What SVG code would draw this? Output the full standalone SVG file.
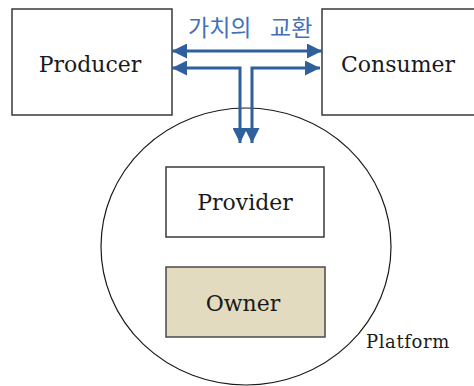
<svg xmlns="http://www.w3.org/2000/svg" width="474" height="386" viewBox="0 0 474 386">
  <style>
    .box { fill: #ffffff; stroke: #3a3a3a; stroke-width: 1.5; }
    .owner { fill: #e2dbc0; stroke: #4a4a4a; stroke-width: 1.5; }
    .label { font-family: "DejaVu Serif", "Liberation Serif", serif; font-size: 22px; fill: #1a1a1a; text-anchor: middle; }
    .small { font-family: "DejaVu Serif", "Liberation Serif", serif; font-size: 18px; fill: #1a1a1a; letter-spacing: 0.6px; }
    .flow { fill: none; stroke: #2f5f9c; stroke-width: 3; }
    .ko { font-family: "Noto Sans CJK KR", sans-serif; font-size: 23px; fill: #4470b8; }
  </style>
  <defs>
    <marker id="head" viewBox="0 0 10 10" refX="10" refY="5" markerWidth="5.5" markerHeight="5" markerUnits="strokeWidth" orient="auto-start-reverse">
      <path d="M0,0 L10,5 L0,10 Z" fill="#2f5f9c"/>
    </marker>
  </defs>

  <rect width="474" height="386" fill="#ffffff"/>

  <g id="platform">
    <ellipse cx="246" cy="246.5" rx="145" ry="138.5" fill="none" stroke="#1a1a1a" stroke-width="1.2"/>
    <text class="small" x="366" y="348">Platform</text>
  </g>

  <g id="producer">
    <rect class="box" x="12" y="9" width="160" height="106" stroke="#555555"/>
    <text class="label" x="90" y="72">Producer</text>
  </g>

  <g id="consumer">
    <rect class="box" x="322" y="9" width="170" height="106" stroke="#111111"/>
    <text class="label" x="398" y="72">Consumer</text>
  </g>

  <g id="provider">
    <rect class="box" x="166" y="167" width="158" height="70"/>
    <text class="label" x="245" y="210">Provider</text>
  </g>

  <g id="owner">
    <rect class="owner" x="166" y="267" width="159" height="70"/>
    <text class="label" x="243" y="311">Owner</text>
  </g>

  <g id="connectors">
    <text class="ko" x="188" y="36">가치의</text>
    <text class="ko" x="270" y="36">교환</text>
    <line class="flow" x1="172" y1="51" x2="322" y2="51" marker-start="url(#head)" marker-end="url(#head)"/>
    <polyline class="flow" points="172,68 240,68 240,143" marker-start="url(#head)" marker-end="url(#head)"/>
    <polyline class="flow" points="252,143 252,68 320,68" marker-start="url(#head)" marker-end="url(#head)"/>
  </g>
</svg>
